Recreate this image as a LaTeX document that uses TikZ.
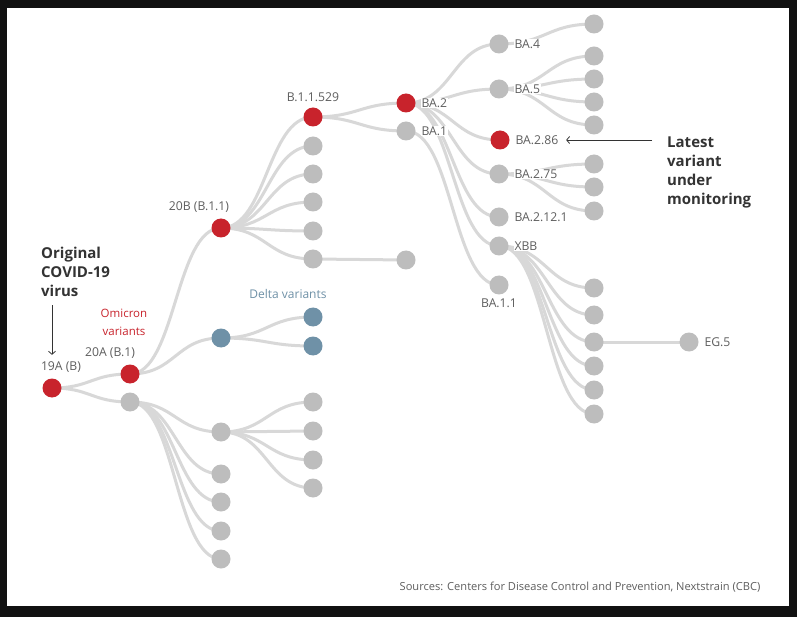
\documentclass[tikz,border=0pt]{standalone}
\usepackage{fontspec}
\setmainfont{Open Sans}
\usetikzlibrary{arrows.meta, positioning, calc, backgrounds}

\definecolor{omired}{HTML}{C8232C}
\definecolor{dotgray}{HTML}{BDBDBD}
\definecolor{linkgray}{HTML}{D8D8D8}
\definecolor{deltablue}{HTML}{6F91A7}
\definecolor{lblgray}{HTML}{5E5E5E}
\definecolor{headgray}{HTML}{333333}
\definecolor{framedark}{HTML}{111111}

% horizontal S-shaped link between two dots
\newcommand{\linkpath}[2]{\draw[link] let \p1=(#1.center), \p2=(#2.center) in
  (\p1) .. controls ({(\x1+\x2)/2},\y1) and ({(\x1+\x2)/2},\y2) .. (\p2);}

\begin{document}
\begin{tikzpicture}[
  x=1pt, y=-1pt,
  dot/.style={circle, inner sep=0pt, minimum size=19pt},
  reddot/.style={dot, fill=omired},
  graydot/.style={dot, fill=dotgray},
  bluedot/.style={dot, fill=deltablue},
  lbl/.style={font=\fontsize{12.2}{14}\selectfont, text=lblgray, fill=white, inner sep=0.6pt},
  head/.style={font=\fontsize{15}{19}\selectfont\bfseries, text=headgray, align=left, inner sep=0pt},
  link/.style={draw=linkgray, line width=3pt},
  pointer/.style={draw=headgray, line width=0.8pt, -{Straight Barb[length=3pt, width=7pt]}}
]
\useasboundingbox (0,0) rectangle (797,617);
\begin{pgfonlayer}{background}
  \fill[framedark] (0,0) rectangle (797,617);
  \fill[white] (7,8) rectangle (789,606);
\end{pgfonlayer}

% Root and first branches
\node[reddot] (n19a) at (52,388) {};
\node[reddot] (n20a) at (130,374) {};
\node[graydot] (o1) at (130,402) {};
\node[reddot] (n20b) at (221,228) {};
\node[bluedot] (ndelta) at (221,338) {};
\node[bluedot] (dl1) at (313,317) {};
\node[bluedot] (dl2) at (313,346) {};

% Lower gray branch
\node[graydot] (o1a) at (221,432) {};
\foreach \y [count=\i] in {474,502,531,559}
  \node[graydot] (o1leaf\i) at (221,\y) {};
\foreach \y [count=\i] in {402,431,460,488}
  \node[graydot] (o1aleaf\i) at (313,\y) {};

% 20B branch
\node[reddot] (nb529) at (313,117) {};
\foreach \y [count=\i] in {146,174,202,231,259}
  \node[graydot] (b\i) at (313,\y) {};
\node[graydot] (b5a) at (406,260) {};

% Omicron branch
\node[reddot] (nba2) at (406,103) {};
\node[graydot] (nba1) at (406,131) {};
\node[graydot] (nba4) at (499,44) {};
\node[graydot] (nba5) at (499,89) {};
\node[reddot] (nba286) at (500,140) {};
\node[graydot] (nba275) at (499,174) {};
\node[graydot] (nba2121) at (499,217) {};
\node[graydot] (nxbb) at (499,246) {};
\node[graydot] (nba11) at (499,285) {};
\node[graydot] (ba4leaf1) at (594,24) {};
\foreach \y [count=\i] in {56,79,102,125}
  \node[graydot] (ba5leaf\i) at (594,\y) {};
\foreach \y [count=\i] in {164,187,211}
  \node[graydot] (ba75leaf\i) at (594,\y) {};
\foreach \y [count=\i] in {288,315,342,366,390,414}
  \node[graydot] (xbbleaf\i) at (594,\y) {};
\node[graydot] (neg5) at (689,342) {};

% Labels
\node[lbl] (l19a) at (61,367) {19A (B)};
\node[lbl] (l20a) at (110,353) {20A (B.1)};
\node[lbl] (l20b) at (199,207) {20B (B.1.1)};
\node[lbl, above=5pt of nb529] (lb529) {B.1.1.529};
\node[lbl, right=5pt of nba2] (lba2) {BA.2};
\node[lbl, right=5pt of nba1] (lba1) {BA.1};
\node[lbl, right=5pt of nba4] (lba4) {BA.4};
\node[lbl, right=5pt of nba5] (lba5) {BA.5};
\node[lbl, right=5pt of nba286] (lba286) {BA.2.86};
\node[lbl, right=5pt of nba275] (lba275) {BA.2.75};
\node[lbl, right=5pt of nba2121] (lba2121) {BA.2.12.1};
\node[lbl, right=5pt of nxbb] (lxbb) {XBB};
\node[lbl, below=3pt of nba11] (lba11) {BA.1.1};
\node[lbl, right=5pt of neg5] (leg5) {EG.5};
\node[lbl, text=omired, align=center, font=\fontsize{11.5}{18}\selectfont] (lomicron) at (124,322) {Omicron\\variants};
\node[lbl, text=deltablue, font=\fontsize{12}{14}\selectfont] (ldelta) at (288,294) {Delta variants};

% Notes
\node[head, anchor=north west] (orig) at (41,246.5) {Original\\COVID-19\\virus};
\node[head, anchor=north west] (latest) at (667,137) {Latest\\variant\\under\\monitoring};
\node[lbl, font=\fontsize{11.1}{13}\selectfont] (src) at (580,587) {Sources: Centers for Disease Control and Prevention, Nextstrain (CBC)};

\draw[pointer, shorten <=9pt, shorten >=6pt] (orig.south -| n19a) -- (l19a.north -| n19a);
\draw[pointer, shorten <=15pt, shorten >=7pt] (lba286.east -| latest.west) -- (lba286.east);

% Links
\begin{pgfonlayer}{background}
\foreach \s/\t in {n19a/n20a, n19a/o1, n20a/n20b, n20a/ndelta, ndelta/dl1, ndelta/dl2,
    o1/o1a, o1/o1leaf1, o1/o1leaf2, o1/o1leaf3, o1/o1leaf4,
    o1a/o1aleaf1, o1a/o1aleaf2, o1a/o1aleaf3, o1a/o1aleaf4,
    n20b/nb529, n20b/b1, n20b/b2, n20b/b3, n20b/b4, n20b/b5, b5/b5a,
    nb529/nba2, nb529/nba1,
    nba2/nba4, nba2/nba5, nba2/nba286, nba2/nba275, nba2/nba2121, nba2/nxbb,
    nba1/nba11, nba4/ba4leaf1,
    nba5/ba5leaf1, nba5/ba5leaf2, nba5/ba5leaf3, nba5/ba5leaf4,
    nba275/ba75leaf1, nba275/ba75leaf2, nba275/ba75leaf3,
    nxbb/xbbleaf1, nxbb/xbbleaf2, nxbb/xbbleaf3, nxbb/xbbleaf4, nxbb/xbbleaf5, nxbb/xbbleaf6,
    xbbleaf3/neg5}
  {\linkpath{\s}{\t}}
\end{pgfonlayer}

\end{tikzpicture}
\end{document}
